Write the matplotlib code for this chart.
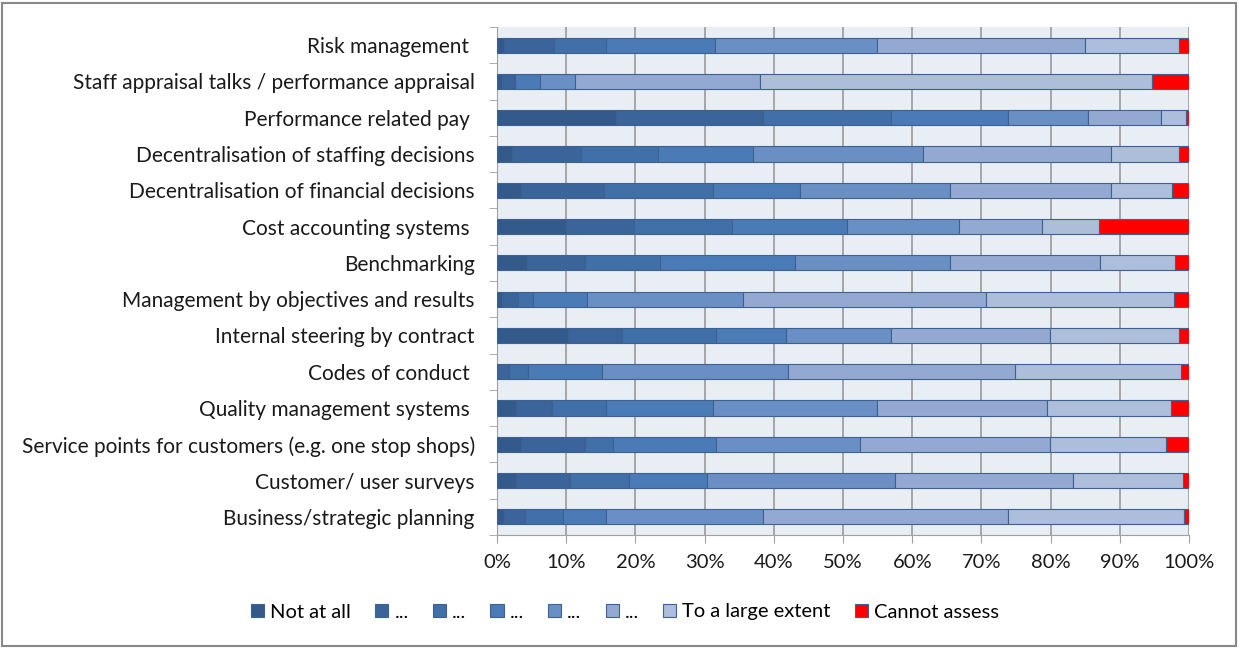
import matplotlib
matplotlib.use("Agg")
import matplotlib.pyplot as plt
from matplotlib.patches import Rectangle
import numpy as np

categories = [
    "Risk management ",
    "Staff appraisal talks / performance appraisal",
    "Performance related pay ",
    "Decentralisation of staffing decisions",
    "Decentralisation of financial decisions",
    "Cost accounting systems ",
    "Benchmarking",
    "Management by objectives and results",
    "Internal steering by contract",
    "Codes of conduct ",
    "Quality management systems ",
    "Service points for customers (e.g. one stop shops)",
    "Customer/ user surveys",
    "Business/strategic planning",
]

series_names = ["Not at all", "...", "...", "...", "...", "...", "To a large extent", "Cannot assess"]

# percent values per category (rows) for each series (columns)
not_at_all = [1.0, 0.7, 17.2, 2.2, 3.4, 10.0, 4.4, 0.7, 10.3, 0.0, 2.7, 3.4, 2.7, 1.0]
level2     = [7.2, 1.9, 21.2, 9.9, 12.0, 9.8, 8.3, 2.4, 7.8, 1.7, 5.2, 9.3, 7.9, 3.1]
level3     = [7.6, 0.0, 18.5, 11.1, 15.8, 14.2, 10.8, 2.1, 13.5, 2.8, 7.9, 4.1, 8.5, 5.5]
level4     = [15.7, 3.6, 16.9, 13.8, 12.6, 16.6, 19.6, 7.8, 10.2, 10.7, 15.4, 14.8, 11.3, 6.2]
level5     = [23.4, 5.1, 11.6, 24.6, 21.6, 16.1, 22.4, 22.6, 15.1, 26.8, 23.7, 20.9, 27.1, 22.7]
level6     = [30.1, 26.7, 10.6, 27.2, 23.4, 12.1, 21.6, 35.0, 23.0, 32.9, 24.6, 27.4, 25.8, 35.4]
large_ext  = [13.5, 56.7, 3.6, 9.8, 8.8, 8.2, 10.9, 27.3, 18.6, 23.9, 17.9, 16.8, 15.8, 25.4]
cannot     = [1.5, 5.3, 0.4, 1.4, 2.4, 13.0, 2.0, 2.1, 1.5, 1.2, 2.6, 3.3, 0.9, 0.7]

series = [not_at_all, level2, level3, level4, level5, level6, large_ext, cannot]
colors = ["#34598b", "#3a649a", "#4170a9", "#4a7bb7", "#6a8fc4", "#93a9d1", "#adbedb", "#ff0000"]

plt.rcParams['font.family'] = ['Lato', 'DejaVu Sans']

fig = plt.figure(figsize=(12.39, 6.48), dpi=100)
ax = fig.add_axes([497/1239, 1 - 535/648, (1189-497)/1239, (535-27)/648])

y = np.arange(len(categories))
left = np.zeros(len(categories))
handles = []
for vals, col, name in zip(series, colors, series_names):
    v = np.array(vals)
    ax.barh(y, v, left=left, height=0.42, color=col, edgecolor="#3d6190", linewidth=0.8, zorder=3)
    left += v
    handles.append(Rectangle((0, 0), 1, 1, facecolor=col, edgecolor="#3d6190", linewidth=0.8))

ax.set_xlim(0, 100)
ax.set_ylim(len(categories) - 0.5, -0.5)
ax.set_facecolor("#e9edf4")
ax.set_yticks(y)
ax.set_yticklabels(categories, fontsize=15, color="#1a1a1a")
ax.set_yticks(np.arange(len(categories) + 1) - 0.5, minor=True)
ax.tick_params(axis='y', which='major', length=0, pad=16)
ax.tick_params(axis='y', which='minor', length=6, color="#a0a0a0")
ax.set_xticks(np.arange(0, 101, 10))
ax.set_xticklabels([f"{t}%" for t in range(0, 101, 10)], fontsize=14.5, color="#1a1a1a")
ax.tick_params(axis='x', length=6, color="#a0a0a0", pad=8)
ax.grid(axis='x', color="#9a9a9a", linewidth=1.2, zorder=0)
for s in ["top", "right"]:
    ax.spines[s].set_visible(False)
ax.spines["left"].set_color("#a0a0a0")
ax.spines["bottom"].set_color("#a0a0a0")

fig.legend(handles, series_names, loc="center", bbox_to_anchor=(625/1239, 1 - 612/648), ncol=8,
           frameon=False, fontsize=14.5, handlelength=0.65, handleheight=0.65, handletextpad=0.3,
           columnspacing=1.2)

fig.patches.append(Rectangle((2/1239, 2/648), 1 - 5/1239, 1 - 5/648, transform=fig.transFigure,
                             fill=False, edgecolor="#888888", linewidth=1.5))

fig.savefig("out.png", dpi=100)
